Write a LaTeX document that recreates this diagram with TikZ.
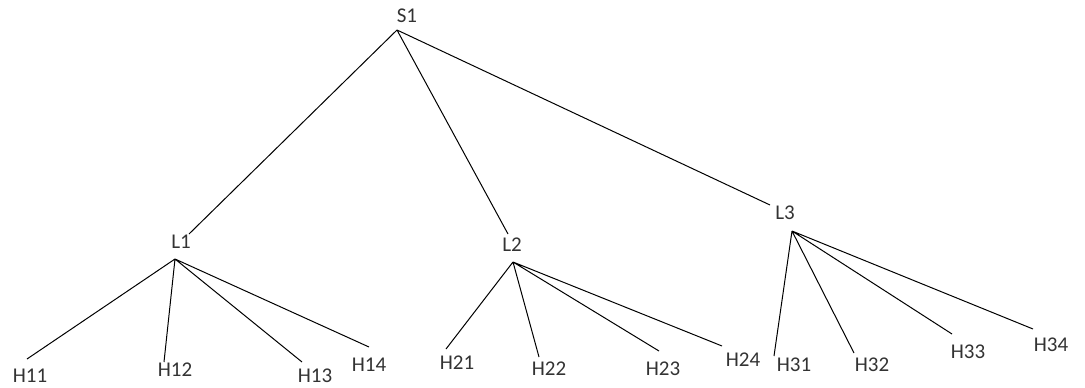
\documentclass[tikz,border=0pt]{standalone}
\usepackage{fontspec}
\setmainfont{Carlito}
\usepackage{tikz}

\begin{document}
\begin{tikzpicture}[x=1pt, y=-1pt, line width=1pt,
		lbl/.style={inner sep=0pt, text=black!80, font=\fontsize{21}{25}\selectfont}]
		\useasboundingbox (0,0) rectangle (1085,388);
		% labels
		\node[lbl] (s1) at (407,16) {S1};
		\node[lbl] (l1) at (181,242) {L1};
		\node[lbl] (l2) at (512,245) {L2};
		\node[lbl] (l3) at (785,213) {L3};
		\node[lbl] (h11) at (30,376) {H11};
		\node[lbl] (h12) at (175,370) {H12};
		\node[lbl] (h13) at (315,376) {H13};
		\node[lbl] (h14) at (369,365) {H14};
		\node[lbl] (h21) at (457,363) {H21};
		\node[lbl] (h22) at (549,369) {H22};
		\node[lbl] (h23) at (663,369) {H23};
		\node[lbl] (h24) at (743,360) {H24};
		\node[lbl] (h31) at (794,365) {H31};
		\node[lbl] (h32) at (872,365) {H32};
		\node[lbl] (h33) at (968,352) {H33};
		\node[lbl] (h34) at (1051,345) {H34};
		% branch points
		\coordinate (s1b) at (397,30);
		\coordinate (l1t) at (189,234);
		\coordinate (l2t) at (508,234);
		\coordinate (l3t) at (770,205);
		\coordinate (l1b) at (175,259);
		\coordinate (l2b) at (513,262);
		\coordinate (l3b) at (792,231);
		% leaf ends
		\coordinate (h11t) at (27,359);
		\coordinate (h12t) at (164,362);
		\coordinate (h13t) at (302,362);
		\coordinate (h14t) at (369,347);
		\coordinate (h21t) at (446,349);
		\coordinate (h22t) at (539,357);
		\coordinate (h23t) at (659,351);
		\coordinate (h24t) at (722,346);
		\coordinate (h31t) at (774,356);
		\coordinate (h32t) at (854,353);
		\coordinate (h33t) at (952,334);
		\coordinate (h34t) at (1033,329);
		\draw
			(s1b) -- (l1t)
			(s1b) -- (l2t)
			(s1b) -- (l3t)
			(l1b) -- (h11t)
			(l1b) -- (h12t)
			(l1b) -- (h13t)
			(l1b) -- (h14t)
			(l2b) -- (h21t)
			(l2b) -- (h22t)
			(l2b) -- (h23t)
			(l2b) -- (h24t)
			(l3b) -- (h31t)
			(l3b) -- (h32t)
			(l3b) -- (h33t)
			(l3b) -- (h34t);
\end{tikzpicture}
\end{document}
